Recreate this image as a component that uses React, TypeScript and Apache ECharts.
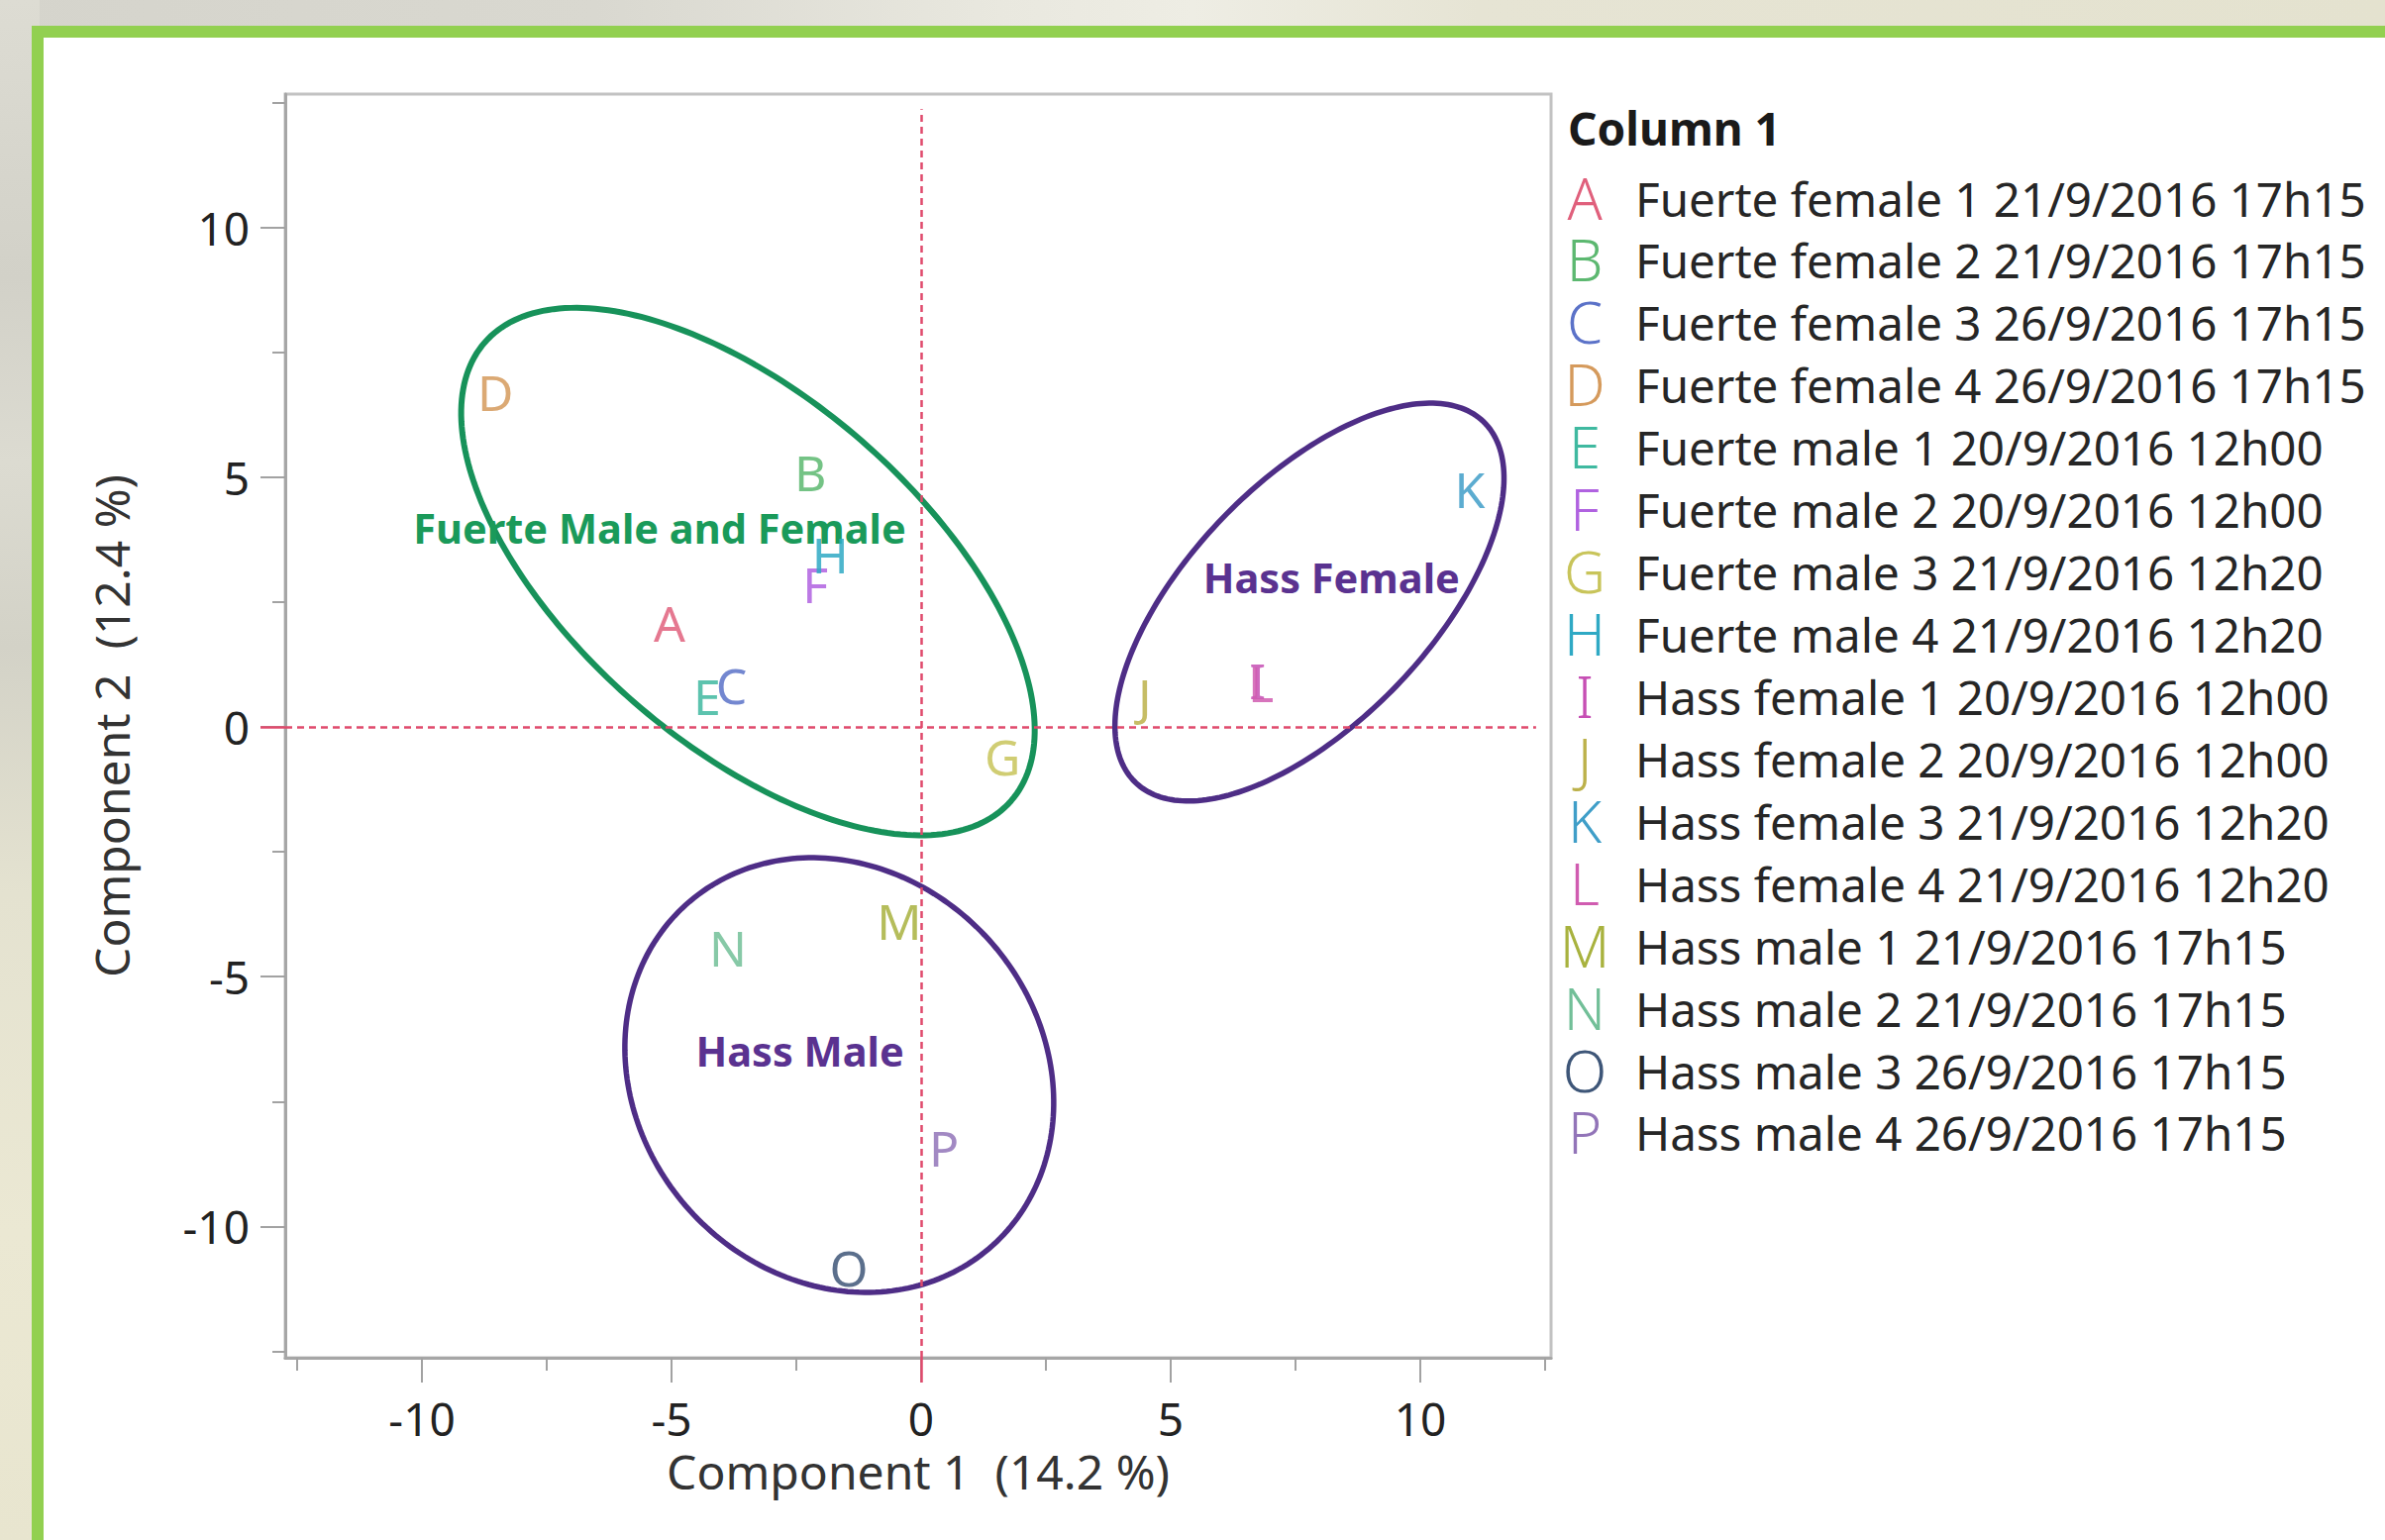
import React, { useEffect, useRef } from "react";
import * as echarts from "echarts";

const PAGE_W = 2408;
const PAGE_H = 1555;
const FONT = "Noto Sans";

// Sample codes, their descriptions and marker colours
const LETTERS = ["A", "B", "C", "D", "E", "F", "G", "H", "I", "J", "K", "L", "M", "N", "O", "P"];
const SAMPLES = [
  "Fuerte female 1 21/9/2016 17h15",
  "Fuerte female 2 21/9/2016 17h15",
  "Fuerte female 3 26/9/2016 17h15",
  "Fuerte female 4 26/9/2016 17h15",
  "Fuerte male 1 20/9/2016 12h00",
  "Fuerte male 2 20/9/2016 12h00",
  "Fuerte male 3 21/9/2016 12h20",
  "Fuerte male 4 21/9/2016 12h20",
  "Hass female 1 20/9/2016 12h00",
  "Hass female 2 20/9/2016 12h00",
  "Hass female 3 21/9/2016 12h20",
  "Hass female 4 21/9/2016 12h20",
  "Hass male 1 21/9/2016 17h15",
  "Hass male 2 21/9/2016 17h15",
  "Hass male 3 26/9/2016 17h15",
  "Hass male 4 26/9/2016 17h15",
];
const COLORS = [
  "#e0607c", "#5cb870", "#5b72c8", "#d59a5c", "#3fb9a0", "#b062e0", "#c8c45a", "#2fa9c4",
  "#c64fb4", "#bcb14a", "#3f9ec8", "#d05cb0", "#a8b23e", "#72bf98", "#3e5678", "#9274b8",
];

// Principal component scores
const PC1 = [-5.04, -2.22, -3.8, -8.53, -4.29, -2.12, 1.63, -1.82, 6.74, 4.48, 10.99, 6.81, -0.44, -3.87, -1.45, 0.46];
const PC2 = [2.08, 5.09, 0.83, 6.7, 0.62, 2.85, -0.59, 3.45, 0.94, 0.62, 4.76, 0.87, -3.89, -4.42, -10.83, -8.42];

// Group outlines: centre x, centre y, semi-axis a, semi-axis b, rotation (degrees)
const GROUP_NAMES = ["Fuerte Male and Female", "Hass Female", "Hass Male"];
const GROUP_CX = [-3.47, 7.78, -1.64];
const GROUP_CY = [3.11, 2.5, -6.97];
const GROUP_A = [6.99, 5.02, 4.59];
const GROUP_B = [3.47, 2.42, 4.04];
const GROUP_ROT = [-41, 46, -47.9];
const GROUP_LINE = ["#17925a", "#4e2d86", "#4e2d86"];
const GROUP_TEXT = ["#1a9a5a", "#5a3290", "#5a3290"];
const GROUP_LABEL_X = [-5.24, 8.22, -2.43];
const GROUP_LABEL_Y = [3.98, 2.99, -6.49];

// Axes
const X_MIN = -12.74;
const X_MAX = 12.62;
const Y_MIN = -12.63;
const Y_MAX = 12.67;
const MAJOR_TICKS = [-10, -5, 0, 5, 10];
const MINOR_TICKS = [-12.5, -7.5, -2.5, 2.5, 7.5, 12.5];
const ZERO_TICK = [0];
const X_TITLE = "Component 1\u00a0 (14.2 %)";
const Y_TITLE = "Component 2\u00a0 (12.4 %)";
const LEGEND_TITLE = "Column 1";

const TICK_GRAY = "#a2a2a2";
const REF_RED = "#e04a6c";
const HIDDEN = "rgba(0,0,0,0)";

function axis(dim: "x" | "y", extra: any) {
  const isX = dim === "x";
  return {
    type: "value",
    min: isX ? X_MIN : Y_MIN,
    max: isX ? X_MAX : Y_MAX,
    position: isX ? "bottom" : "left",
    axisLine: { show: false, onZero: false },
    splitLine: { show: false },
    axisLabel: { show: false },
    axisTick: { show: false },
    ...extra,
  };
}

function axesFor(dim: "x" | "y") {
  const isX = dim === "x";
  return [
    axis(dim, {
      axisLine: { show: true, onZero: false, lineStyle: { color: "#a6a6a6", width: 3 } },
      axisTick: { show: true, customValues: MAJOR_TICKS, length: 25, lineStyle: { color: TICK_GRAY, width: 2 } },
      axisLabel: {
        show: true,
        customValues: MAJOR_TICKS,
        margin: isX ? 38 : 36,
        fontSize: 46,
        fontFamily: FONT,
        color: "#222222",
      },
      name: isX ? X_TITLE : Y_TITLE,
      nameLocation: "middle",
      nameGap: isX ? 90 : 152,
      nameRotate: isX ? 0 : 90,
      nameTextStyle: { fontSize: 48, fontFamily: FONT, color: "#333333" },
    }),
    axis(dim, {
      axisTick: { show: true, customValues: MINOR_TICKS, length: 13, lineStyle: { color: TICK_GRAY, width: 2 } },
    }),
    axis(dim, {
      axisTick: { show: true, customValues: ZERO_TICK, length: 25, lineStyle: { color: REF_RED, width: 2.5 } },
    }),
  ];
}

function buildOption() {
  const points = LETTERS.map((l, i) => ({
    name: l,
    value: [PC1[i], PC2[i]],
    label: { color: COLORS[i] },
  }));

  const groupData = GROUP_CX.map((cx, i) => [cx, GROUP_CY[i], GROUP_A[i], GROUP_B[i], GROUP_ROT[i]]);

  const groupLabels = GROUP_NAMES.map((n, i) => ({
    name: n,
    value: [GROUP_LABEL_X[i], GROUP_LABEL_Y[i]],
    label: { color: GROUP_TEXT[i] },
  }));

  const legendRowTop = 199;
  const legendRowStep = 62.93;
  const legend: any[] = [
    {
      type: "text",
      x: 1583,
      y: 129,
      z: 10,
      style: {
        text: LEGEND_TITLE,
        fontSize: 46,
        fontWeight: "bold",
        fontFamily: FONT,
        fill: "#1a1a1a",
        align: "left",
        verticalAlign: "middle",
      },
    },
  ];
  LETTERS.forEach((l, i) => {
    legend.push({
      type: "text",
      x: 1600,
      y: legendRowTop + i * legendRowStep,
      z: 10,
      style: {
        text: l,
        fontSize: 58,
        fontWeight: 300,
        fontFamily: FONT,
        fill: COLORS[i],
        align: "center",
        verticalAlign: "middle",
      },
    });
    legend.push({
      type: "text",
      x: 1651,
      y: legendRowTop + i * legendRowStep + 1,
      z: 10,
      style: {
        text: SAMPLES[i],
        fontSize: 47.5,
        fontFamily: FONT,
        fill: "#262626",
        align: "left",
        verticalAlign: "middle",
      },
    });
  });

  return {
    animation: false,
    backgroundColor: "transparent",
    textStyle: { fontFamily: FONT },
    grid: {
      left: 288,
      top: 95,
      width: 1278,
      height: 1276,
      show: true,
      borderColor: "#c2c2c2",
      borderWidth: 3,
      backgroundColor: "transparent",
      containLabel: false,
    },
    xAxis: axesFor("x"),
    yAxis: axesFor("y"),
    graphic: { elements: legend },
    series: [
      {
        // reference lines through the origin
        type: "scatter",
        silent: true,
        z: 1,
        symbolSize: 0,
        data: [[0, 0]],
        itemStyle: { color: HIDDEN, opacity: 1 },
        markLine: {
          silent: true,
          symbol: ["none", "none"],
          label: { show: false },
          lineStyle: { color: REF_RED, width: 2.5, type: [7, 5], opacity: 1 },
          emphasis: { disabled: true },
          data: [
            [{ coord: [0, Y_MIN] }, { coord: [0, 12.37] }],
            [{ coord: [X_MIN, 0] }, { coord: [12.32, 0] }],
          ],
        },
      },
      {
        // group outlines
        type: "custom",
        silent: true,
        z: 2,
        data: groupData,
        renderItem: (params: any, api: any) => {
          const cx = api.value(0);
          const cy = api.value(1);
          const a = api.value(2);
          const b = api.value(3);
          const rot = (api.value(4) * Math.PI) / 180;
          const pts: number[][] = [];
          const n = 240;
          for (let k = 0; k < n; k++) {
            const t = (k / n) * Math.PI * 2;
            const ex = a * Math.cos(t);
            const ey = b * Math.sin(t);
            pts.push(
              api.coord([cx + ex * Math.cos(rot) - ey * Math.sin(rot), cy + ex * Math.sin(rot) + ey * Math.cos(rot)])
            );
          }
          const i = params.dataIndex;
          return {
            type: "polygon",
            shape: { points: pts },
            style: { fill: "none", stroke: GROUP_LINE[i], lineWidth: i === 0 ? 6 : 5.5 },
          };
        },
      },
      {
        // group names
        type: "scatter",
        silent: true,
        z: 3,
        symbolSize: 1,
        itemStyle: { color: HIDDEN, opacity: 1 },
        data: groupLabels,
        label: {
          show: true,
          position: "inside",
          formatter: "{b}",
          fontSize: 41.5,
          fontWeight: "bold",
          fontFamily: FONT,
          opacity: 1,
        },
      },
      {
        // sample scores drawn as their letter codes
        type: "scatter",
        silent: true,
        z: 4,
        symbolSize: 1,
        itemStyle: { color: HIDDEN, opacity: 1 },
        data: points,
        label: {
          show: true,
          position: "inside",
          formatter: "{b}",
          fontSize: 50,
          fontWeight: "normal",
          fontFamily: FONT,
          opacity: 0.85,
        },
      },
    ],
  };
}

export default function App() {
  const ref = useRef<HTMLDivElement>(null);

  useEffect(() => {
    if (!ref.current) return;
    const chart = echarts.init(ref.current, null, { renderer: "svg", width: PAGE_W, height: PAGE_H });
    chart.setOption(buildOption() as any);
    return () => {
      chart.dispose();
    };
  }, []);

  return (
    <div
      style={{
        position: "fixed",
        left: 0,
        top: 0,
        width: PAGE_W,
        height: PAGE_H,
        overflow: "hidden",
        background:
          "linear-gradient(90deg, #d5d4cc 0%, #d9d8d0 25%, #e9e8df 42%, #eeede4 50%, #e6e4d4 62%, #e4e2cf 100%)",
      }}
    >
      <div
        style={{
          position: "absolute",
          left: 0,
          top: 0,
          width: 40,
          height: PAGE_H,
          background:
            "linear-gradient(180deg, #dddcd3 0%, #d2d1c8 18%, #dcdbd1 30%, #d3d2c7 42%, #e4e2d0 58%, #ebe8d3 80%, #e8e5cf 100%)",
        }}
      />
      <div
        style={{
          position: "absolute",
          left: 32,
          top: 26,
          width: PAGE_W,
          height: PAGE_H,
          background: "#92d050",
        }}
      />
      <div
        style={{
          position: "absolute",
          left: 44,
          top: 38,
          width: PAGE_W,
          height: PAGE_H,
          background: "#ffffff",
        }}
      />
      <div ref={ref} style={{ position: "absolute", left: 0, top: 0, width: PAGE_W, height: PAGE_H }} />
    </div>
  );
}
